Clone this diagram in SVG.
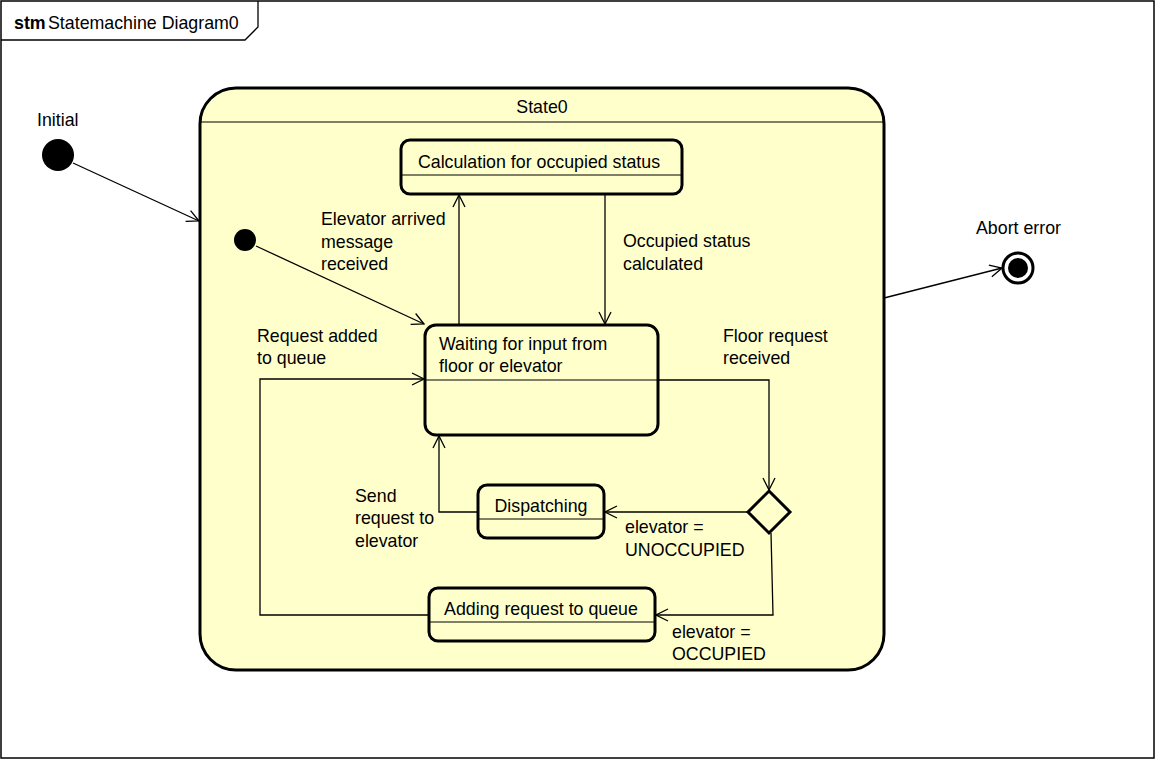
<svg xmlns="http://www.w3.org/2000/svg" width="1156" height="760" viewBox="0 0 1156 760">
  <style>
    text { font-family: "Liberation Sans", Arial, sans-serif; font-size: 17.8px; fill: #000; }
    .state { fill: #FFFFCC; stroke: #000; stroke-width: 3; }
    .div { stroke: #000; stroke-width: 1.2; fill: none; }
    .edge { fill: none; stroke: #000; stroke-width: 1.3; marker-end: url(#open); }
    .mid { text-anchor: middle; }
  </style>
  <defs>
    <marker id="open" viewBox="0 0 14 14" refX="13" refY="7" markerWidth="14" markerHeight="14" markerUnits="userSpaceOnUse" orient="auto">
      <path d="M1,1 L13,7 L1,13" fill="none" stroke="#000" stroke-width="1.3"/>
    </marker>
  </defs>

  <rect x="0" y="0" width="1156" height="760" fill="#fff"/>

  <!-- diagram frame -->
  <g id="frame">
    <rect x="1" y="1" width="1153" height="757" fill="none" stroke="#000" stroke-width="1.5"/>
    <path d="M1,40 L245,40 L258,27 L258,1" fill="none" stroke="#000" stroke-width="1.3"/>
    <text x="14" y="29"><tspan font-weight="bold">stm</tspan><tspan x="48">Statemachine Diagram0</tspan></text>
  </g>

  <!-- composite state -->
  <g id="state0">
    <rect class="state" x="200" y="88" width="684" height="582" rx="36" ry="36"/>
    <line class="div" x1="200" y1="122" x2="884" y2="122"/>
    <text class="mid" x="542" y="113">State0</text>
  </g>

  <g id="initial">
    <circle cx="58" cy="155" r="16" fill="#000"/>
    <text x="37" y="126">Initial</text>
  </g>

  <g id="inner-initial">
    <circle cx="245" cy="240" r="11" fill="#000"/>
  </g>

  <g id="calc">
    <rect class="state" x="401" y="140" width="281" height="54" rx="9"/>
    <line class="div" x1="401" y1="175" x2="682" y2="175"/>
    <text class="mid" x="539" y="168">Calculation for occupied status</text>
  </g>

  <g id="waiting">
    <rect class="state" x="425" y="325" width="233" height="110" rx="11"/>
    <line class="div" x1="425" y1="380" x2="658" y2="380"/>
    <text x="439" y="350">Waiting for input from</text>
    <text x="439" y="372">floor or elevator</text>
  </g>

  <g id="dispatching">
    <rect class="state" x="478" y="485" width="126" height="53" rx="9"/>
    <line class="div" x1="478" y1="519" x2="604" y2="519"/>
    <text class="mid" x="541" y="512">Dispatching</text>
  </g>

  <g id="adding">
    <rect class="state" x="429" y="588" width="226" height="53" rx="9"/>
    <line class="div" x1="429" y1="622" x2="655" y2="622"/>
    <text class="mid" x="541" y="615">Adding request to queue</text>
  </g>

  <g id="choice">
    <path d="M769,491 L790,512 L769,533 L748,512 Z" fill="#FFFFCC" stroke="#000" stroke-width="3"/>
  </g>

  <g id="final">
    <circle cx="1018" cy="268" r="15" fill="#fff" stroke="#000" stroke-width="3"/>
    <circle cx="1018" cy="268" r="10" fill="#000"/>
    <text x="976" y="234">Abort error</text>
  </g>

  <!-- transitions -->
  <g id="connectors">
    <path class="edge" d="M73,163 L199,221"/>
    <path class="edge" d="M256,246 L424,324"/>
    <path class="edge" d="M459,325 L459,195"/>
    <path class="edge" d="M605,194 L605,324"/>
    <path class="edge" d="M658,380 L769,380 L769,490"/>
    <path class="edge" d="M748,512 L605,512"/>
    <path class="edge" d="M478,512 L439,512 L439,436"/>
    <path class="edge" d="M771,533 L773,615 L656,615"/>
    <path class="edge" d="M429,615 L260,615 L260,379 L424,379"/>
    <path class="edge" d="M884,298 L1002,268"/>
  </g>

  <!-- transition labels -->
  <g id="labels">
    <text x="321" y="225">Elevator arrived</text>
    <text x="321" y="248">message</text>
    <text x="321" y="270">received</text>
    <text x="623" y="247">Occupied status</text>
    <text x="623" y="270">calculated</text>
    <text x="723" y="342">Floor request</text>
    <text x="723" y="364">received</text>
    <text x="257" y="342">Request added</text>
    <text x="257" y="364">to queue</text>
    <text x="625" y="533">elevator =</text>
    <text x="625" y="556">UNOCCUPIED</text>
    <text x="355" y="502">Send</text>
    <text x="355" y="524">request to</text>
    <text x="355" y="547">elevator</text>
    <text x="672" y="638">elevator =</text>
    <text x="672" y="660">OCCUPIED</text>
  </g>
</svg>
